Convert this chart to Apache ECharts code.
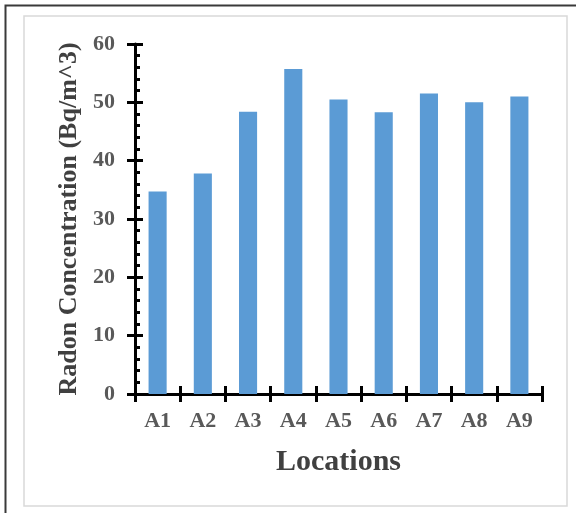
<!DOCTYPE html>
<html>
<head>
<meta charset="utf-8">
<script src="https://cdn.jsdelivr.net/npm/echarts@6/dist/echarts.min.js"></script>
<style>
html,body{margin:0;padding:0;background:#fff;}
#c{width:576px;height:513px;}
</style>
</head>
<body>
<div id="c"></div>
<script>
var categories = ['A1','A2','A3','A4','A5','A6','A7','A8','A9'];
var radonValues = [34.7, 37.8, 48.4, 55.7, 50.5, 48.3, 51.5, 50.0, 51.0];
var yTicks = [0, 10, 20, 30, 40, 50, 60];

var FONT = "'Liberation Serif','Times New Roman',serif";
var chart = echarts.init(document.getElementById('c'), null, {renderer:'canvas'});
var yMin = yTicks[0], yMax = yTicks[yTicks.length-1], yStep = yTicks[1]-yTicks[0];
var grid = {left:135, right:34, top:44, bottom:119};
chart.setOption({
  animation:false,
  backgroundColor:'#ffffff',
  graphic:[
    {type:'rect', shape:{x:5.5,y:5.5,width:700,height:700}, style:{fill:'none', stroke:'#3a3a3a', lineWidth:2}, silent:true, z:-10},
    {type:'rect', shape:{x:24,y:16,width:543,height:490}, style:{fill:'none', stroke:'#d9d9d9', lineWidth:1.5}, silent:true, z:-10}
  ],
  grid:grid,
  xAxis:[
    {type:'category', data:categories, position:'bottom',
     axisLine:{show:true, lineStyle:{color:'#000', width:3}},
     axisTick:{show:true, inside:true, length:8, lineStyle:{color:'#000', width:3}},
     axisLabel:{show:true, color:'#595959', fontFamily:FONT, fontWeight:'bold', fontSize:22, margin:16},
     name:'Locations', nameLocation:'middle', nameGap:53,
     nameTextStyle:{color:'#404040', fontFamily:FONT, fontWeight:'bold', fontSize:30},
     splitLine:{show:false}},
    {type:'category', data:categories, position:'bottom',
     axisLine:{show:false},
     axisTick:{show:true, inside:false, length:8, lineStyle:{color:'#000', width:3}},
     axisLabel:{show:false}, splitLine:{show:false}},
    {type:'category', data:categories, position:'bottom',
     axisLine:{show:false},
     axisTick:{show:true, inside:true, alignWithLabel:true, length:5, lineStyle:{color:'#000', width:3}},
     axisLabel:{show:false}, splitLine:{show:false}}
  ],
  yAxis:[
    {type:'value', min:yMin, max:yMax, interval:yStep, position:'left',
     axisLine:{show:true, lineStyle:{color:'#000', width:3}},
     axisTick:{show:true, inside:true, length:8, lineStyle:{color:'#000', width:3}},
     minorTick:{show:true, splitNumber:5, length:5, lineStyle:{color:'#000', width:3}},
     axisLabel:{show:true, color:'#595959', fontFamily:FONT, fontWeight:'bold', fontSize:22, margin:20},
     splitLine:{show:false},
     name:'Radon Concentration (Bq/m^3)', nameLocation:'middle', nameGap:46, nameRotate:90,
     nameTextStyle:{color:'#404040', fontFamily:FONT, fontWeight:'bold', fontSize:26}},
    {type:'value', min:yMin, max:yMax, interval:yStep, position:'left',
     axisLine:{show:false},
     axisTick:{show:true, inside:false, length:8, lineStyle:{color:'#000', width:3}},
     axisLabel:{show:false}, splitLine:{show:false}}
  ],
  series:[
    {type:'bar', data:radonValues, xAxisIndex:0, yAxisIndex:0, barWidth:'40%',
     itemStyle:{color:'#5b9bd5'}, z:1}
  ]
});
</script>
</body>
</html>
